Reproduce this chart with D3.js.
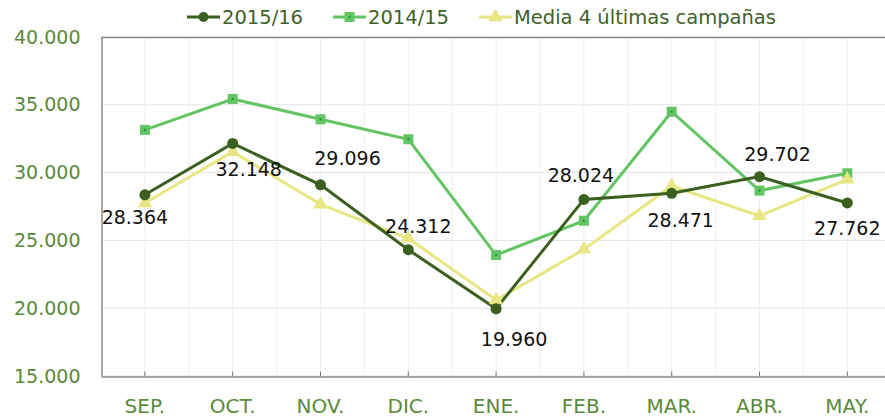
<!DOCTYPE html>
<html>
<head>
<meta charset="utf-8">
<script src="https://cdn.jsdelivr.net/npm/d3@7"></script>
<style>
  html, body { margin: 0; padding: 0; background: #fff; }
  svg { display: block; font-family: "DejaVu Sans", sans-serif; }
</style>
</head>
<body>
<div id="chart"></div>
<script>
// data
var months = ["SEP.", "OCT.", "NOV.", "DIC.", "ENE.", "FEB.", "MAR.", "ABR.", "MAY."];
var campaign1516 = [28364, 32148, 29096, 24312, 19960, 28024, 28471, 29702, 27762];
var campaign1415 = [33150, 35430, 33930, 32460, 23920, 26450, 34490, 28670, 29950];
var media4 = [27760, 31540, 27660, 25150, 20600, 24340, 29010, 26800, 29500];
var yTicks = [15000, 20000, 25000, 30000, 35000, 40000];

// where each 2015/16 value label sits, relative to its point
var labelOffsets = [[-10, 22], [16, 26], [27, -27], [10, -24], [18, 30], [-3, -24], [9, 27], [18, -23], [0, 25]];

var W = 885, H = 417;
var margin = { top: 37, left: 101, bottom: 41 };
var plotW = 9 * 87.8;
var plotH = H - margin.top - margin.bottom;

var cDark = "#3b5f1f", cLight = "#62c462", cYellow = "#e8e682";
var axisGreen = "#5a8a3a", legendGreen = "#3f6127";

var fmt = function(v) { return d3.format(",")(v).replace(/,/g, "."); };

var svg = d3.select("#chart").append("svg")
  .attr("width", W)
  .attr("height", H);

var x = d3.scaleBand().domain(months).range([margin.left, margin.left + plotW]);
var y = d3.scaleLinear().domain([15000, 40000]).range([margin.top + plotH, margin.top]);
var cx = function(i) { return x(months[i]) + x.bandwidth() / 2; };

// grid
var grid = svg.append("g");
grid.selectAll(".hg").data(yTicks).enter().append("line")
  .attr("x1", margin.left).attr("x2", margin.left + plotW)
  .attr("y1", function(d) { return y(d); }).attr("y2", function(d) { return y(d); })
  .attr("stroke", "#e3e3e3").attr("stroke-width", 1);
grid.selectAll(".vg").data(months).enter().append("line")
  .attr("x1", function(d) { return x(d) + x.bandwidth() / 2; })
  .attr("x2", function(d) { return x(d) + x.bandwidth() / 2; })
  .attr("y1", margin.top).attr("y2", margin.top + plotH)
  .attr("stroke", "#efefef").attr("stroke-width", 1);
grid.selectAll(".vb").data(months.slice(1)).enter().append("line")
  .attr("x1", function(d) { return x(d); }).attr("x2", function(d) { return x(d); })
  .attr("y1", margin.top).attr("y2", margin.top + plotH)
  .attr("stroke", "#efefef").attr("stroke-width", 1);

// top frame line
svg.append("line").attr("x1", margin.left).attr("x2", margin.left + plotW)
  .attr("y1", margin.top + 0.5).attr("y2", margin.top + 0.5)
  .attr("stroke", "#8a8a8a").attr("stroke-width", 1.5);

// axes
var yAxis = svg.append("g")
  .attr("transform", "translate(" + (margin.left + 0.5) + ",0)")
  .call(d3.axisLeft(y).tickValues(yTicks).tickSize(0).tickPadding(21).tickFormat(fmt));
yAxis.select(".domain").attr("stroke", "#8a8a8a").attr("stroke-width", 1.5);
yAxis.selectAll("text").attr("fill", axisGreen).style("font-size", "19px")
  .style("font-family", "DejaVu Sans, sans-serif");

var xAxis = svg.append("g")
  .attr("transform", "translate(0," + (margin.top + plotH + 0.5) + ")")
  .call(d3.axisBottom(x).tickSizeInner(-5).tickSizeOuter(0).tickPadding(22));
xAxis.select(".domain").attr("stroke", "#8a8a8a").attr("stroke-width", 1.5);
xAxis.selectAll(".tick line").attr("stroke", "#777");
xAxis.selectAll("text").attr("fill", axisGreen).style("font-size", "20px")
  .style("font-family", "DejaVu Sans, sans-serif");

// lines
var line = d3.line().x(function(d, i) { return cx(i); }).y(function(d) { return y(d); });

svg.append("path").datum(campaign1415).attr("d", line)
  .attr("fill", "none").attr("stroke", cLight).attr("stroke-width", 3);
svg.append("path").datum(media4).attr("d", line)
  .attr("fill", "none").attr("stroke", cYellow).attr("stroke-width", 3);
svg.append("path").datum(campaign1516).attr("d", line)
  .attr("fill", "none").attr("stroke", cDark).attr("stroke-width", 3);

// markers
var tri = d3.symbol().type(d3.symbolTriangle).size(90);
svg.selectAll(".sq").data(campaign1415).enter().append("rect")
  .attr("x", function(d, i) { return cx(i) - 5; })
  .attr("y", function(d) { return y(d) - 5; })
  .attr("width", 10).attr("height", 10)
  .attr("fill", cLight);
svg.selectAll(".sqd").data(campaign1415).enter().append("rect")
  .attr("x", function(d, i) { return cx(i) - 1; })
  .attr("y", function(d) { return y(d) - 1; })
  .attr("width", 2).attr("height", 2)
  .attr("fill", "#1f8f3a");
svg.selectAll(".tr").data(media4).enter().append("path")
  .attr("d", tri)
  .attr("transform", function(d, i) { return "translate(" + cx(i) + "," + y(d) + ")"; })
  .attr("fill", cYellow);
svg.selectAll(".ci").data(campaign1516).enter().append("circle")
  .attr("cx", function(d, i) { return cx(i); })
  .attr("cy", function(d) { return y(d); })
  .attr("r", 5.5).attr("fill", cDark);

// value labels
svg.selectAll(".lbl").data(campaign1516).enter().append("text")
  .attr("x", function(d, i) { return cx(i) + labelOffsets[i][0]; })
  .attr("y", function(d, i) { return y(d) + labelOffsets[i][1]; })
  .attr("text-anchor", "middle")
  .attr("dominant-baseline", "central")
  .attr("fill", "#111")
  .style("font-size", "19px")
  .text(fmt);

// legend (equal slots, like the original)
var legendItems = [
  { name: "2015/16", color: cDark, shape: "circle" },
  { name: "2014/15", color: cLight, shape: "square" },
  { name: "Media 4 últimas campañas", color: cYellow, shape: "triangle" }
];
var lg = svg.selectAll(".lg").data(legendItems).enter().append("g")
  .attr("transform", function(d, i) { return "translate(" + (187 + i * 146) + ",17)"; });
lg.append("line").attr("x1", 0).attr("x2", 33).attr("y1", 0).attr("y2", 0)
  .attr("stroke", function(d) { return d.color; }).attr("stroke-width", 3);
lg.each(function(d) {
  var g = d3.select(this);
  if (d.shape == "circle") {
    g.append("circle").attr("cx", 16.5).attr("cy", 0).attr("r", 5).attr("fill", d.color);
  } else if (d.shape == "square") {
    g.append("rect").attr("x", 11.5).attr("y", -5).attr("width", 10).attr("height", 10).attr("fill", d.color);
    g.append("rect").attr("x", 15.5).attr("y", -1).attr("width", 2).attr("height", 2).attr("fill", "#1f8f3a");
  } else {
    g.append("path").attr("d", tri).attr("transform", "translate(16.5,0)").attr("fill", d.color);
  }
});
lg.append("text").attr("x", 35).attr("y", 0)
  .attr("dominant-baseline", "central")
  .attr("fill", legendGreen)
  .style("font-size", "19.5px")
  .text(function(d) { return d.name; });
</script>
</body>
</html>
